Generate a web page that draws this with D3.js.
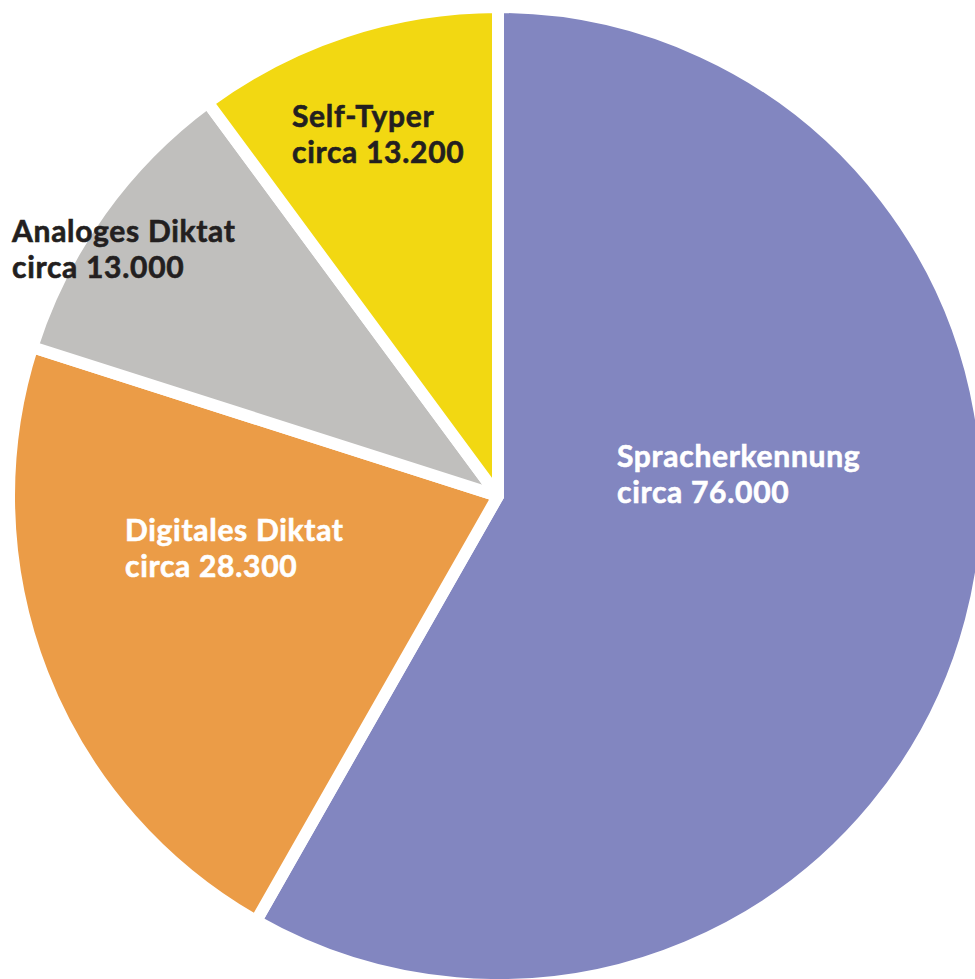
<!DOCTYPE html>
<html>
<head>
<meta charset="utf-8">
<script src="https://cdn.jsdelivr.net/npm/d3@7"></script>
<style>
  body { margin: 0; background: #fff; }
  #chart { width: 975px; height: 979px; }
  text { font-family: Lato, "Noto Sans", sans-serif; font-weight: 700; }
</style>
</head>
<body>
<div id="chart"></div>
<script>
// Data
var categories = ["Spracherkennung", "Digitales Diktat", "Analoges Diktat", "Self-Typer"];
var values = [76000, 28300, 13000, 13200];
var valueLabels = ["circa 76.000", "circa 28.300", "circa 13.000", "circa 13.200"];

var colors = ["#8286c0", "#eb9c47", "#c0bfbd", "#f2d812"];
var textColors = ["#ffffff", "#ffffff", "#231f20", "#231f20"];
// label anchor (left, first baseline)
var labelPos = [[617, 467], [125, 541], [12, 242], [292, 127]];

var width = 975,
    height = 979;

var svg = d3.select("#chart")
    .append("svg")
    .attr("width", width)
    .attr("height", height);

var cx = 498, cy = 496, radius = 489;

var pie = d3.pie().sort(null).value(d => d);
var arc = d3.arc().innerRadius(0).outerRadius(radius);

var g = svg.append("g").attr("transform", `translate(${cx},${cy})`);

g.selectAll("path")
    .data(pie(values))
    .enter()
    .append("path")
        .attr("d", arc)
        .attr("fill", (d, i) => colors[i])
        .attr("stroke", "#fff")
        .attr("stroke-width", 12)
        .attr("stroke-linejoin", "round");

/* LABELS */
var labels = svg.append("g")
    .selectAll("text")
    .data(categories)
    .enter()
    .append("text")
        .attr("x", (d, i) => labelPos[i][0])
        .attr("y", (d, i) => labelPos[i][1])
        .attr("fill", (d, i) => textColors[i])
        .attr("stroke", (d, i) => textColors[i])
        .attr("stroke-width", 0.6)
        .style("font-size", "30px")
        .style("letter-spacing", "0.7px");

labels.append("tspan")
    .text(d => d);

labels.append("tspan")
    .attr("x", (d, i) => labelPos[i][0])
    .attr("dy", 36)
    .text((d, i) => valueLabels[i]);
</script>
</body>
</html>
